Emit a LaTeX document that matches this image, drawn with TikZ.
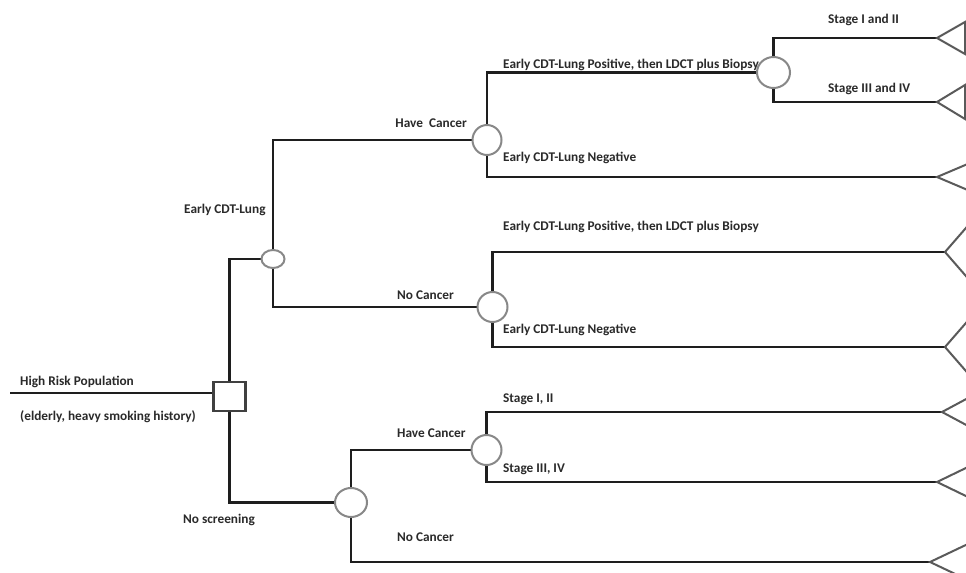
\documentclass[tikz,border=0pt]{standalone}
\usepackage{fontspec}
\setmainfont{Carlito}
\usetikzlibrary{backgrounds,shapes.geometric}
\definecolor{ln}{HTML}{1E1E1E}
\definecolor{nd}{HTML}{888888}
\definecolor{tri}{HTML}{5A5A5A}
\definecolor{tx}{HTML}{2A2A2A}
\begin{document}
\begin{tikzpicture}[x=1bp,y=-1bp,
  branch/.style={draw=ln, line width=2.8bp},
  chance/.style={ellipse, draw=nd, fill=white, line width=2bp, inner sep=0pt},
  decision/.style={rectangle, draw=ln!85, fill=white, line width=2.2bp, inner sep=0pt, minimum width=32bp, minimum height=29bp},
  term/.style={draw=tri, line width=2bp, line join=miter},
  lbl/.style={anchor=base west, inner sep=0pt, text=tx, font=\fontsize{13.3bp}{16bp}\selectfont\bfseries}]
\useasboundingbox (0,0) rectangle (966,573);
\clip (0,0) rectangle (966,573);

% nodes
\coordinate (r0) at (10,393);
\node[decision] (sq) at (229.5,396.5) {};
\node[chance, minimum width=23bp, minimum height=18bp] (e1) at (273,259) {};
\node[chance, minimum width=29bp, minimum height=30bp] (hc) at (487,140) {};
\node[chance, minimum width=30bp, minimum height=30bp] (nc) at (492.5,307) {};
\node[chance, minimum width=33bp, minimum height=31bp] (pos) at (773.5,72.5) {};
\node[chance, minimum width=32bp, minimum height=29bp] (bc) at (351,502.5) {};
\node[chance, minimum width=30bp, minimum height=30bp] (bhc) at (486.5,450) {};

% terminal tips
\coordinate (t1) at (937,38);
\coordinate (t2) at (937,102);
\coordinate (t3) at (937,177);
\coordinate (t4) at (945,252);
\coordinate (t5) at (945,347);
\coordinate (t6) at (942,412);
\coordinate (t7) at (937,482);
\coordinate (t8) at (930,562);

\begin{pgfonlayer}{background}
\fill[white] (0,0) rectangle (966,573);
\draw[branch] (r0) -- (r0 -| sq.west);
\draw[branch] (e1.center) -| (sq.center) |- (bc.center);
\draw[branch] (hc.center) -| (e1.center) |- (nc.center);
\draw[branch] (pos.center) -| (hc.center) |- (t3);
\draw[branch] (t1) -| (pos.center) |- (t2);
\draw[branch] (t4) -| (nc.center) |- (t5);
\draw[branch] (bhc.center) -| (bc.center) |- (t8);
\draw[branch] (t6) -| (bhc.center) |- (t7);
\end{pgfonlayer}

% terminal triangles
\draw[term] (965,22) -- (t1) -- (965,54) -- cycle;
\draw[term] (965,85) -- (t2) -- (965,119) -- cycle;
\draw[term] (970,163) -- (t3) -- (970,191);
\draw[term] (972,221) -- (t4) -- (972,283);
\draw[term] (972,316) -- (t5) -- (972,378);
\draw[term] (970,397) -- (t6) -- (970,427);
\draw[term] (970,466) -- (t7) -- (970,498);
\draw[term] (970,543) -- (t8) -- (970,581);

% labels
\node[lbl] (l1) at (20,385.5) {High Risk Population};
\node[lbl] (l2) at (20,420) {(elderly, heavy smoking history)};
\node[lbl] (l3) at (184,213.5) {Early CDT-Lung};
\node[lbl, anchor=base east] (l4) at (467,127.5) {Have\ \ Cancer};
\node[lbl] (l5) at (397,299.5) {No Cancer};
\node[lbl] (l6) at (503,68.5) {Early CDT-Lung Positive, then LDCT plus Biopsy};
\node[lbl] (l7) at (503,161.5) {Early CDT-Lung Negative};
\node[lbl] (l8) at (828,23.5) {Stage I and II};
\node[lbl] (l9) at (828,92.5) {Stage III and IV};
\node[lbl] (l10) at (503,231) {Early CDT-Lung Positive, then LDCT plus Biopsy};
\node[lbl] (l11) at (503,333.5) {Early CDT-Lung Negative};
\node[lbl] (l12) at (503,402.5) {Stage I, II};
\node[lbl] (l13) at (397,437.5) {Have Cancer};
\node[lbl] (l14) at (503,472.5) {Stage III, IV};
\node[lbl] (l15) at (183,523.5) {No screening};
\node[lbl] (l16) at (397,541.5) {No Cancer};
\end{tikzpicture}
\end{document}
